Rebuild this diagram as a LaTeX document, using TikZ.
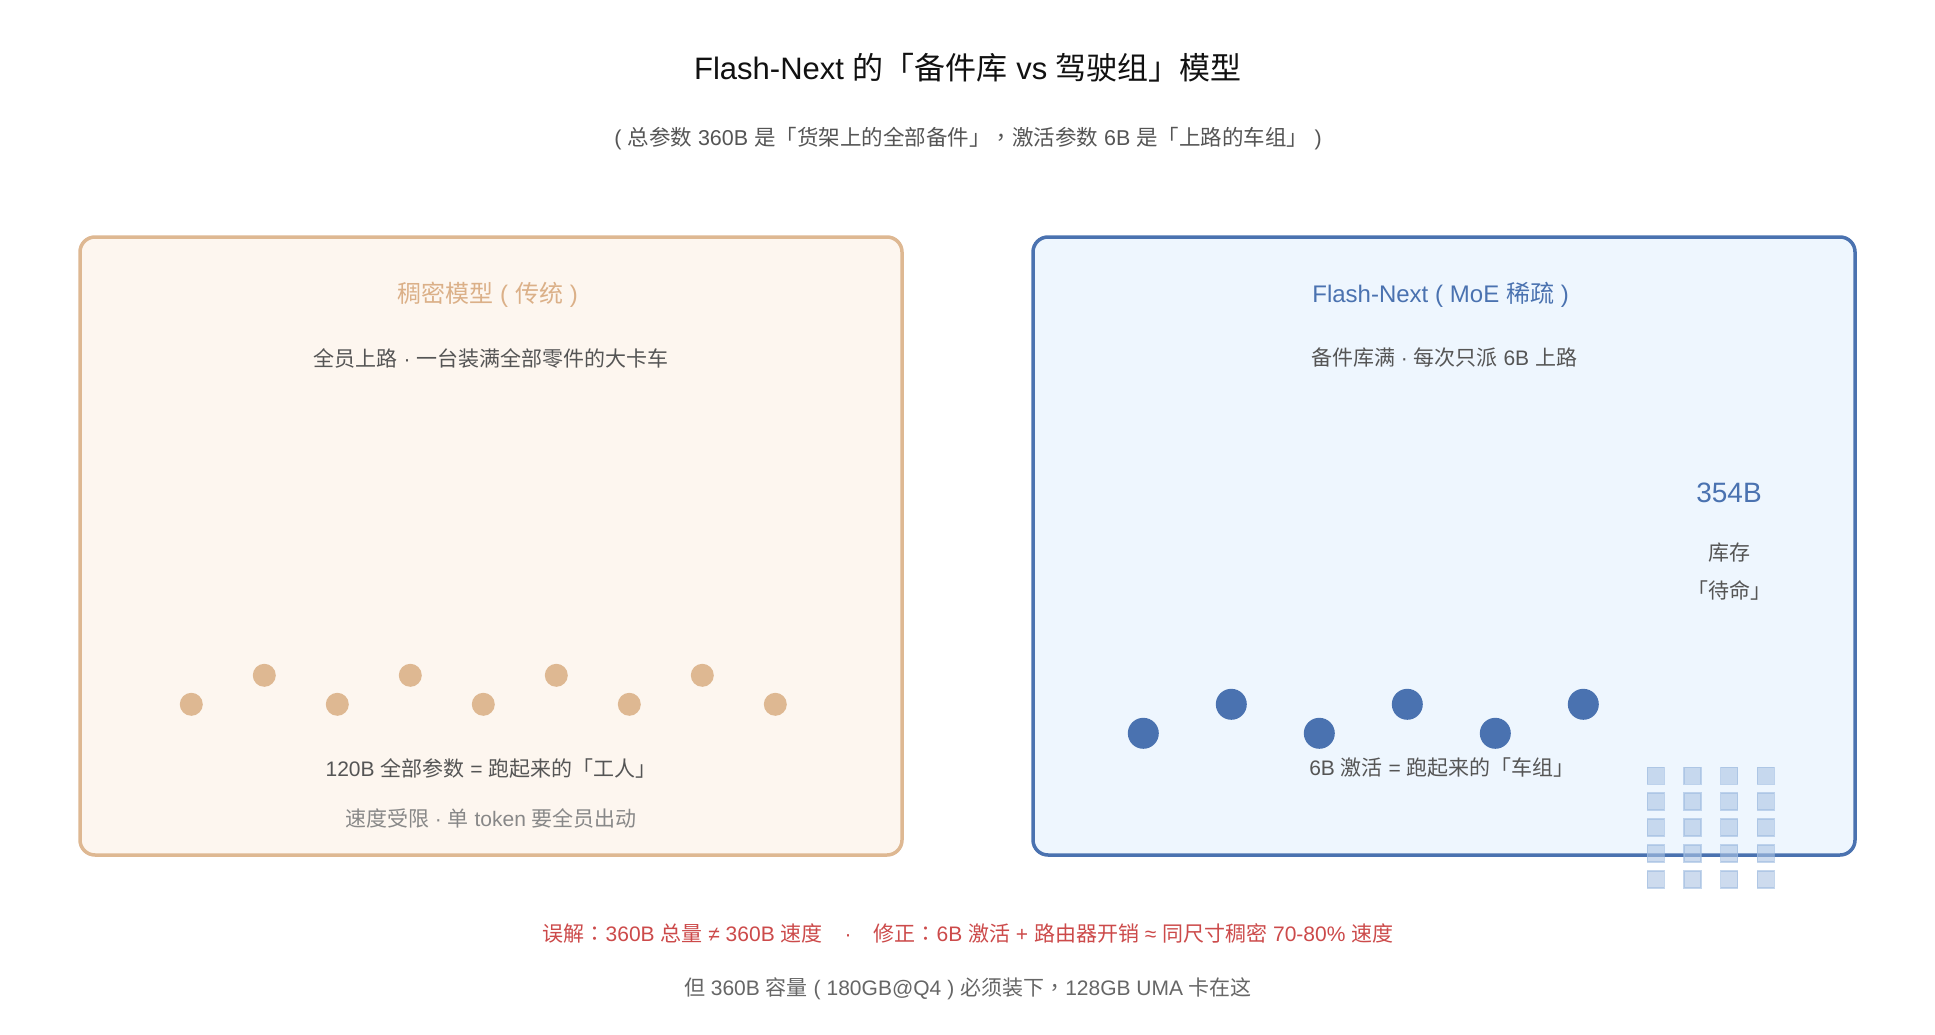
\documentclass[tikz,border=0pt]{standalone}
\usepackage{fontspec}
\setmainfont{Liberation Sans}
\newfontfamily\cjk{Noto Sans CJK SC}
\newfontfamily\cjkp{Noto Sans CJK TC}
\definecolor{tanline}{HTML}{DEB892}
\definecolor{tanfill}{HTML}{FDF6EF}
\definecolor{tantext}{HTML}{DBB088}
\definecolor{blueline}{HTML}{4A72B0}
\definecolor{bluefill}{HTML}{EEF6FE}
\definecolor{sqfill}{HTML}{ACC4E4}
\definecolor{sqline}{HTML}{9DBBE0}
\definecolor{txtdark}{HTML}{111111}
\definecolor{txtmid}{HTML}{555555}
\definecolor{txtlight}{HTML}{888888}
\definecolor{txtbot}{HTML}{666666}
\definecolor{redtxt}{HTML}{CC4A4A}
\newcommand\fsz[1]{\fontsize{#1}{#1}\selectfont}
\newcommand\pu[1]{{\cjkp #1}}
\newcommand\lpar{\makebox[0.9em]{(}}
\newcommand\rpar{\makebox[0.9em]{)}}
\begin{document}
\begin{tikzpicture}[x=1pt,y=-1pt,
  txt/.style={inner sep=0pt, anchor=center, text=txtmid, font=\fsz{21}},
  panel/.style={rounded corners=15pt, line width=3.5pt},
  ldot/.style={circle, fill=tanline, inner sep=0pt, minimum size=23pt},
  rdot/.style={circle, fill=blueline, inner sep=0pt, minimum size=31pt},
  sq/.style={fill=sqfill, draw=sqline, line width=1.5pt, opacity=0.6}]
\useasboundingbox (0,0) rectangle (1935,1035);
\fill[white] (0,0) rectangle (1935,1035);

% title and subtitle
\node[txt, text=txtdark, font=\fsz{31}] (title) at (968,68) {Flash-Next {\cjk 的「备件库} vs {\cjk 驾驶组」模型}};
\node[txt, font=\fsz{21.5}] (subtitle) at (968,138.5) {\lpar{\cjk 总参数} 360B {\cjk 是「货架上的全部备件」}\pu{，}{\cjk 激活参数} 6B {\cjk 是「上路的车组」}\rpar};

% panels
\draw[panel, draw=tanline, fill=tanfill] (80,237) rectangle (902,855);
\draw[panel, draw=blueline, fill=bluefill] (1033,237) rectangle (1855,855);

% left panel
\node[txt, text=tantext, font=\fsz{24}] (ltitle) at (491,294.5) {{\cjk 稠密模型}\lpar{\cjk 传统}\rpar};
\node[txt] (lsub) at (491,358) {{\cjk 全员上路} · {\cjk 一台装满全部零件的大卡车}};
\foreach \i in {0,...,8}{
  \pgfmathsetmacro\xx{191.3+73*\i}
  \pgfmathsetmacro\yy{mod(\i,2)==0 ? 704.3 : 675.3}
  \node[ldot] (ld\i) at (\xx,\yy) {};
}
\node[txt] (lcap) at (491,768) {120B {\cjk 全部参数} = {\cjk 跑起来的「工人」}};
\node[txt, text=txtlight] (lnote) at (491,818) {{\cjk 速度受限} · {\cjk 单} token {\cjk 要全员出动}};

% right panel
\node[txt, text=blueline, font=\fsz{24}] (rtitle) at (1444,294.5) {Flash-Next\lpar MoE {\cjk 稀疏}\rpar};
\node[txt] (rsub) at (1444,358) {{\cjk 备件库满} · {\cjk 每次只派} 6B {\cjk 上路}};
\node[txt, text=blueline, font=\fsz{28}] (rnum) at (1729,493) {354B};
\node[txt] (rstock) at (1729,553) {{\cjk 库存}};
\node[txt] (rwait) at (1729,590) {{\cjk 「待命」}};
\foreach \i in {0,...,5}{
  \pgfmathsetmacro\xx{1143.3+88*\i}
  \pgfmathsetmacro\yy{mod(\i,2)==0 ? 733.3 : 704.3}
  \node[rdot] (rd\i) at (\xx,\yy) {};
}
\node[txt] (rcap) at (1442,768) {6B {\cjk 激活} = {\cjk 跑起来的「车组」}};

% spare-part grid
\foreach \c in {0,...,3}{
  \foreach \r in {0,...,4}{
    \pgfmathsetmacro\sx{1647.3+36.7*\c}
    \pgfmathsetmacro\sy{767.3+25.9*\r}
    \path[sq] (\sx,\sy) rectangle ++(17,17);
  }
}

% bottom notes
\node[txt, text=redtxt] (bred) at (968,933) {{\cjk 误解}\pu{：}360B {\cjk 总量} ≠ 360B {\cjk 速度}\hspace{22pt}·\hspace{22pt}{\cjk 修正}\pu{：}6B {\cjk 激活} + {\cjk 路由器开销} ≈ {\cjk 同尺寸稠密} 70-80\% {\cjk 速度}};
\node[txt, text=txtbot] (bgray) at (968,989) {{\cjk 但} 360B {\cjk 容量}\lpar 180GB@Q4\rpar{\cjk 必须装下}\pu{，}128GB UMA {\cjk 卡在这}};
\end{tikzpicture}
\end{document}
